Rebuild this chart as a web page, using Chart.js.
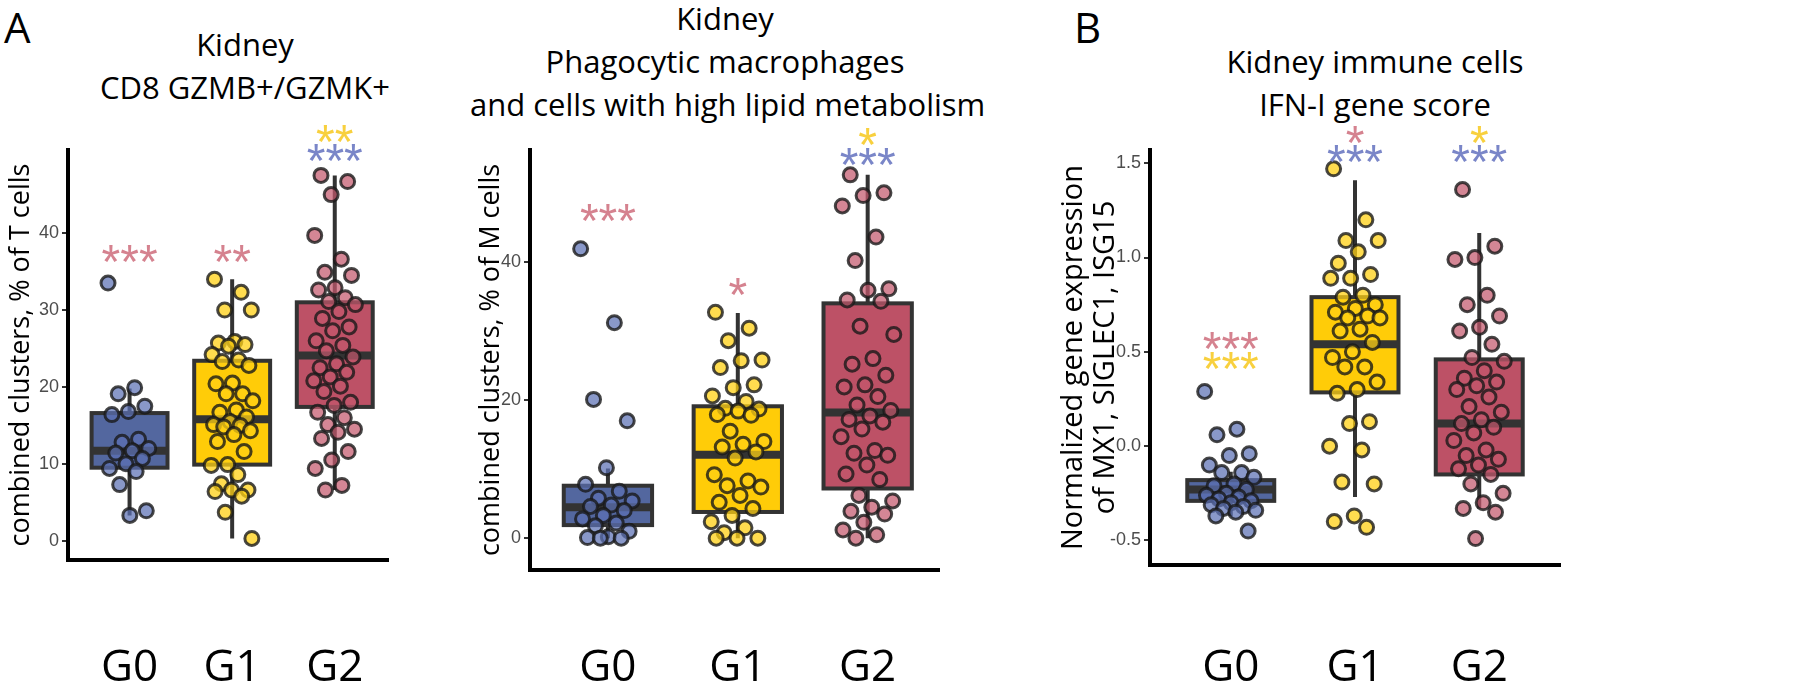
<!DOCTYPE html>
<html>
<head>
<meta charset="utf-8">
<script src="https://cdn.jsdelivr.net/npm/chart.js@4.4.1/dist/chart.umd.min.js"></script>
<style>
  body { margin: 0; background: #fff; width: 1800px; height: 697px; position: relative; overflow: hidden; }
  canvas { position: absolute; top: 0; }
  .ttl { position: absolute; text-align: center; white-space: nowrap; font-family: "Open Sans", sans-serif; font-size: 31px; line-height: 43px; color: #000; }
  .tag { position: absolute; top: 2px; font-family: "Open Sans", sans-serif; font-size: 42px; line-height: 50px; color: #000; }
</style>
</head>
<body>
<div class="tag" style="left:4px">A</div>
<div class="tag" style="left:1074px">B</div>
<div class="ttl" style="left:45px;width:400px;top:23px">Kidney<br>CD8 GZMB+/GZMK+</div>
<div class="ttl" style="left:470px;width:510px;top:-3px">Kidney<br>Phagocytic macrophages<br>and cells with high lipid metabolism</div>
<div class="ttl" style="left:1175px;width:400px;top:40px">Kidney immune cells<br>IFN-I gene score</div>

<canvas id="c1" width="450" height="697" style="left:0"></canvas>
<canvas id="c2" width="520" height="697" style="left:450px"></canvas>
<canvas id="c3" width="760" height="697" style="left:1040px"></canvas>

<script>
const groups = ['G0', 'G1', 'G2'];

// CD8 GZMB+/GZMK+, % of T cells
const cd8G0 = [33.5, 19.9, 19.1, 17.5, 16.8, 16.4, 13.2, 12.8, 12.0, 11.7, 11.4, 10.7, 10.0, 9.4, 9.0, 7.3, 3.9, 3.3];
const cd8G1 = [34.0, 32.3, 30.0, 30.0, 25.9, 25.7, 25.5, 25.3, 24.2, 23.5, 23.3, 22.8, 20.5, 20.4, 19.1, 19.1, 18.2, 17.0, 16.7,
               16.1, 15.5, 15.1, 15.0, 14.8, 14.3, 13.8, 12.9, 11.6, 9.9, 9.8, 8.6, 7.4, 6.6, 6.6, 6.4, 5.8, 3.7, 0.3];
const cd8G2 = [47.5, 46.7, 45.0, 39.7, 36.6, 34.9, 34.5, 32.9, 32.6, 31.6, 31.1, 30.7, 29.8, 28.9, 27.8, 27.3, 26.0, 25.4, 24.7,
               23.9, 23.0, 22.5, 21.9, 21.3, 20.8, 20.1, 19.4, 18.0, 17.6, 16.7, 16.0, 15.1, 14.5, 14.1, 13.3, 11.6, 10.5, 9.4, 7.2, 6.6];
const cd8Lo = [3.3, 0.3, 6.6];
const cd8Q1 = [9.5, 9.9, 17.4];
const cd8Med = [11.7, 15.8, 24.1];
const cd8Q3 = [16.6, 23.4, 31.0];
const cd8Hi = [19.8, 34.0, 47.5];
const cd8Ticks = [0, 10, 20, 30, 40];
const cd8StarGroup = [0, 1, 2, 2];
const cd8StarText = ['***', '**', '**', '***'];
const cd8StarVs = [2, 2, 1, 0];
const cd8StarY = [37.3, 37.3, 53.0, 50.5];

// Phagocytic macrophages, % of M cells
const macG0 = [41.9, 31.2, 20.1, 17.0, 10.2, 7.8, 6.8, 5.8, 5.4, 4.8, 4.6, 4.0, 3.3, 2.8, 2.2, 1.8, 1.0, 0.2, 0.1, 0.0, 0.0];
const macG1 = [32.7, 30.4, 28.6, 25.8, 25.7, 24.7, 22.2, 21.8, 20.6, 19.8, 18.8, 18.7, 18.4, 17.9, 17.8, 15.5, 14.0, 13.6,
               13.2, 12.5, 11.6, 9.2, 8.3, 7.6, 7.4, 6.2, 5.2, 4.3, 3.3, 2.4, 1.5, 0.8, 0.0, 0.0, 0.0];
const macG2 = [52.6, 50.0, 49.6, 48.1, 43.6, 40.2, 36.1, 35.9, 34.5, 34.3, 30.7, 29.5, 26.0, 25.2, 23.6, 22.2, 21.9, 20.5,
               19.3, 18.5, 17.7, 17.2, 16.8, 15.8, 14.7, 12.7, 12.3, 12.0, 10.6, 9.3, 8.5, 6.2, 5.4, 4.5, 3.9, 3.5, 2.3, 1.2, 0.5, 0.0];
const macLo = [0.0, 0.0, 0.0];
const macQ1 = [1.9, 3.8, 7.2];
const macMed = [4.5, 12.1, 18.2];
const macQ3 = [7.6, 19.1, 34.0];
const macHi = [10.1, 32.6, 52.6];
const macTicks = [0, 20, 40];
const macStarGroup = [0, 1, 2, 2];
const macStarText = ['***', '*', '*', '***'];
const macStarVs = [2, 2, 1, 0];
const macStarY = [47.1, 36.4, 58.1, 55.2];

// IFN-I gene score
const ifnG0 = [0.29, 0.09, 0.06, -0.04, -0.05, -0.10, -0.14, -0.14, -0.165, -0.20, -0.21, -0.23, -0.25, -0.26, -0.27, -0.28,
               -0.29, -0.30, -0.31, -0.32, -0.33, -0.34, -0.35, -0.37, -0.45];
const ifnG1 = [1.47, 1.20, 1.09, 1.09, 1.03, 0.97, 0.91, 0.89, 0.89, 0.80, 0.79, 0.75, 0.73, 0.71, 0.69, 0.68, 0.68, 0.62,
               0.61, 0.55, 0.50, 0.47, 0.42, 0.42, 0.34, 0.30, 0.28, 0.13, 0.12, 0.00, -0.02, -0.19, -0.20, -0.37, -0.40, -0.43];
const ifnG2 = [1.36, 1.06, 1.00, 0.99, 0.80, 0.75, 0.69, 0.63, 0.61, 0.54, 0.47, 0.45, 0.40, 0.36, 0.34, 0.32, 0.30, 0.26,
               0.21, 0.18, 0.14, 0.12, 0.10, 0.07, 0.03, -0.02, -0.05, -0.07, -0.10, -0.12, -0.15, -0.20, -0.25, -0.30, -0.33, -0.35, -0.49];
const ifnLo = [-0.37, -0.27, -0.33];
const ifnQ1 = [-0.29, 0.285, -0.15];
const ifnMed = [-0.23, 0.54, 0.12];
const ifnQ3 = [-0.18, 0.79, 0.46];
const ifnHi = [-0.135, 1.41, 1.13];
const ifnTicks = [-0.5, 0.0, 0.5, 1.0, 1.5];
const ifnStarGroup = [0, 0, 1, 1, 2, 2];
const ifnStarText = ['***', '***', '*', '***', '*', '***'];
const ifnStarVs = [2, 1, 2, 0, 1, 0];
const ifnStarY = [0.56, 0.456, 1.65, 1.55, 1.65, 1.55];

const boxFill = ['#53679f', '#ffcc08', '#bd5166'];
const dotFill = ['rgba(92,112,180,0.72)', 'rgba(255,208,20,0.75)', 'rgba(196,88,108,0.72)'];
const starColor = ['#7a86c8', '#f8d03e', '#d5828f'];

// deterministic horizontal spread of the dots (geom_jitter look)
const jit = k => (((k * 0.6180339887) % 1) - 0.5) * 0.42;

const boxPlugin = {
  id: 'boxes',
  beforeDatasetsDraw(chart, args, o) {
    const { ctx, scales: { x, y } } = chart;
    ctx.save();
    o.q1.forEach((q1, i) => {
      const cx = x.getPixelForValue(i + 1);
      const half = x.getPixelForValue(i + 1 + o.half) - cx;
      const top = y.getPixelForValue(o.q3[i]);
      const bot = y.getPixelForValue(q1);
      ctx.strokeStyle = '#333';
      ctx.lineWidth = 4;
      ctx.beginPath();
      ctx.moveTo(cx, y.getPixelForValue(o.hi[i])); ctx.lineTo(cx, top);
      ctx.moveTo(cx, bot); ctx.lineTo(cx, y.getPixelForValue(o.lo[i]));
      ctx.stroke();
      ctx.fillStyle = boxFill[i];
      ctx.fillRect(cx - half, top, 2 * half, bot - top);
      ctx.strokeRect(cx - half, top, 2 * half, bot - top);
      const m = y.getPixelForValue(o.med[i]);
      ctx.lineWidth = 8;
      ctx.beginPath(); ctx.moveTo(cx - half, m); ctx.lineTo(cx + half, m); ctx.stroke();
    });
    ctx.restore();
  },
  afterDraw(chart, args, o) {
    const { ctx, scales: { x, y } } = chart;
    ctx.save();
    ctx.font = '48px "Liberation Sans", sans-serif';
    ctx.textAlign = 'center';
    ctx.textBaseline = 'alphabetic';
    const mt = ctx.measureText('*');
    const shift = (mt.actualBoundingBoxAscent - mt.actualBoundingBoxDescent) / 2;
    o.starText.forEach((t, k) => {
      ctx.fillStyle = starColor[o.starVs[k]];
      ctx.fillText(t, x.getPixelForValue(o.starGroup[k] + 1), y.getPixelForValue(o.starY[k]) + shift);
    });
    ctx.restore();
  }
};

function panel(id, p) {
  const datasets = p.values.map((vals, i) => ({
    data: vals.map((v, k) => ({ x: i + 1 + jit(k + i * 5), y: v })),
    backgroundColor: dotFill[i],
    borderColor: 'rgba(25,25,25,0.8)',
    borderWidth: 3,
    pointRadius: 7,
    pointHoverRadius: 7
  }));
  return new Chart(document.getElementById(id), {
    type: 'scatter',
    data: { datasets },
    plugins: [boxPlugin],
    options: {
      responsive: false,
      animation: false,
      devicePixelRatio: 1,
      layout: { padding: { top: p.top, right: p.right, left: 0, bottom: 0 } },
      plugins: {
        legend: { display: false },
        tooltip: { enabled: false },
        boxes: {
          lo: p.lo, q1: p.q1, med: p.med, q3: p.q3, hi: p.hi, half: p.half,
          starGroup: p.starGroup, starText: p.starText, starVs: p.starVs, starY: p.starY
        }
      },
      scales: {
        x: {
          type: 'linear', min: p.xMin, max: p.xMax,
          afterBuildTicks: s => { s.ticks = groups.map((g, i) => ({ value: i + 1 })); },
          afterFit: s => { s.height = 697 - p.bottom; },
          ticks: {
            callback: v => groups[v - 1],
            color: '#000',
            padding: 668 - 26 - p.bottom,
            maxRotation: 0,
            font: { family: '"Open Sans", sans-serif', size: 44 }
          },
          grid: { display: false, drawTicks: false },
          border: { display: true, color: '#000', width: 4 }
        },
        y: {
          min: p.min, max: p.max,
          afterBuildTicks: s => { s.ticks = p.ticks.map(v => ({ value: v })); },
          afterFit: s => { s.width = p.axisX; },
          ticks: {
            callback: p.fmt,
            color: '#4d4d4d',
            padding: 3,
            font: { family: '"Liberation Sans", sans-serif', size: 18 }
          },
          grid: { display: true, drawOnChartArea: false, drawTicks: true, tickLength: 6, color: '#333', lineWidth: 2 },
          border: { display: true, color: '#000', width: 4 },
          title: {
            display: true,
            text: p.title,
            color: '#000',
            padding: { top: p.titlePad, bottom: 0 },
            font: { family: '"Open Sans", sans-serif', size: p.titleSize, lineHeight: 1.1 }
          }
        }
      }
    }
  });
}

panel('c1', {
  values: [cd8G0, cd8G1, cd8G2], lo: cd8Lo, q1: cd8Q1, med: cd8Med, q3: cd8Q3, hi: cd8Hi,
  ticks: cd8Ticks, fmt: v => String(v), min: -2.5, max: 50.8, xMin: 0.4, xMax: 3.52, half: 0.37,
  starGroup: cd8StarGroup, starText: cd8StarText, starVs: cd8StarVs, starY: cd8StarY,
  title: 'combined clusters, % of T cells', titleSize: 27,
  top: 150, bottom: 560, right: 28, axisX: 68, titlePad: 6
});

panel('c2', {
  values: [macG0, macG1, macG2], lo: macLo, q1: macQ1, med: macMed, q3: macQ3, hi: macHi,
  ticks: macTicks, fmt: v => String(v), min: -4.6, max: 56.2, xMin: 0.4, xMax: 3.55, half: 0.34,
  starGroup: macStarGroup, starText: macStarText, starVs: macStarVs, starY: macStarY,
  title: 'combined clusters, % of M cells', titleSize: 27,
  top: 150, bottom: 570, right: 10, axisX: 80, titlePad: 26
});

panel('c3', {
  values: [ifnG0, ifnG1, ifnG2], lo: ifnLo, q1: ifnQ1, med: ifnMed, q3: ifnQ3, hi: ifnHi,
  ticks: ifnTicks, fmt: v => v.toFixed(1), min: -0.63, max: 1.57, xMin: 0.35, xMax: 3.65, half: 0.35,
  starGroup: ifnStarGroup, starText: ifnStarText, starVs: ifnStarVs, starY: ifnStarY,
  title: ['Normalized gene expression', 'of MX1, SIGLEC1, ISG15'], titleSize: 29,
  top: 150, bottom: 565, right: 240, axisX: 110, titlePad: 18
});
</script>
</body>
</html>
